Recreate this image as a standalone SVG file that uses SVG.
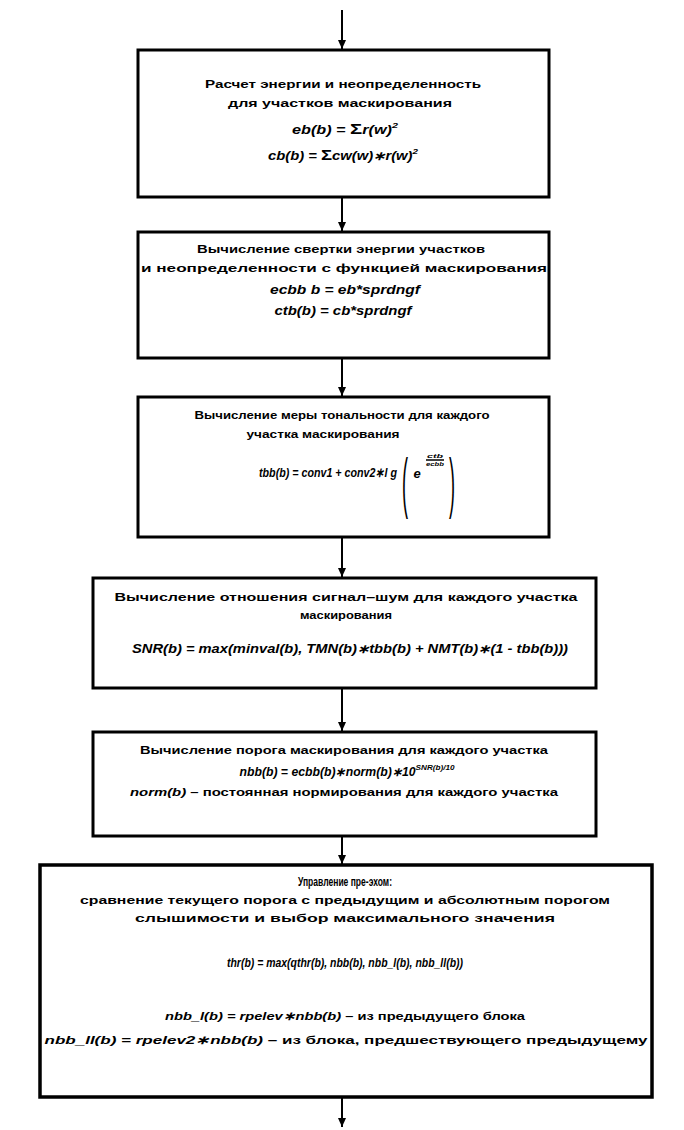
<svg xmlns="http://www.w3.org/2000/svg" width="684" height="1130" viewBox="0 0 684 1130">
<defs>
<marker id="ah" markerUnits="userSpaceOnUse" markerWidth="8" markerHeight="9" refX="4" refY="9" orient="0" viewBox="0 0 8 9">
<path d="M0,0 L8,0 L4,9 z" fill="#000"/>
</marker>
<style>
.box{fill:#fff;stroke:#000;stroke-width:3}
.t{font-family:"Liberation Sans",Arial,sans-serif;font-weight:bold;font-size:11.5px;text-anchor:middle;fill:#000}
.f{font-style:italic;font-size:12px}
.big{font-size:13px}
.conn line{stroke:#000;stroke-width:2}
.sup{font-size:8px}
.par{font-family:"Liberation Sans",Arial,sans-serif;font-size:30px;font-weight:normal;text-anchor:middle;fill:#000}
</style>
</defs>
<rect width="684" height="1130" fill="#fff"/>
<g id="connectors" class="conn">
<line x1="342" y1="10" x2="342" y2="49" marker-end="url(#ah)"/>
<line x1="342" y1="198" x2="342" y2="231" marker-end="url(#ah)"/>
<line x1="342" y1="359" x2="342" y2="396" marker-end="url(#ah)"/>
<line x1="342" y1="538" x2="342" y2="577" marker-end="url(#ah)"/>
<line x1="342" y1="689" x2="342" y2="731" marker-end="url(#ah)"/>
<line x1="342" y1="837" x2="342" y2="864" marker-end="url(#ah)"/>
<line x1="342" y1="1098" x2="342" y2="1127" marker-end="url(#ah)"/>
</g>
<g id="node1">
<rect class="box" x="138" y="50" width="411" height="147"/>
<text class="t" x="343" y="88" textLength="276" lengthAdjust="spacingAndGlyphs">Расчет энергии и неопределенность</text>
<text class="t" x="340" y="107" textLength="224" lengthAdjust="spacingAndGlyphs">для участков маскирования</text>
<text class="t f" x="345" y="134" textLength="106" lengthAdjust="spacingAndGlyphs">eb(b) = <tspan font-style="normal" font-size="15">Σ</tspan>r(w)<tspan class="sup" dy="-6">2</tspan></text>
<text class="t f" x="343" y="160" textLength="150" lengthAdjust="spacingAndGlyphs">cb(b) = <tspan font-style="normal" font-size="15">Σ</tspan>cw(w)∗r(w)<tspan class="sup" dy="-6">2</tspan></text>
</g>
<g id="node2">
<rect class="box" x="138" y="232" width="411" height="126"/>
<text class="t" x="341" y="253" textLength="288" lengthAdjust="spacingAndGlyphs">Вычисление свертки энергии участков</text>
<text class="t" x="344" y="272" textLength="406" lengthAdjust="spacingAndGlyphs">и неопределенности с функцией маскирования</text>
<text class="t f" x="345" y="294" textLength="150" lengthAdjust="spacingAndGlyphs">ecbb b  = eb*sprdngf</text>
<text class="t f" x="343" y="315" textLength="137" lengthAdjust="spacingAndGlyphs">ctb(b) = cb*sprdngf</text>
</g>
<g id="node3">
<rect class="box" x="138" y="397" width="411" height="140"/>
<text class="t" x="342" y="419" textLength="295" lengthAdjust="spacingAndGlyphs">Вычисление меры тональности для каждого</text>
<text class="t" x="323" y="438" textLength="153" lengthAdjust="spacingAndGlyphs">участка маскирования</text>
<text class="t f big" x="328" y="477" textLength="138" lengthAdjust="spacingAndGlyphs">tbb(b) = conv1 + conv2∗l g</text>
<text class="par" x="0" y="0" transform="translate(405,505) scale(0.6,2.25)">(</text>
<text class="t f big" x="417" y="478">e</text>
<text class="t f" x="435" y="458" style="font-size:6px" textLength="16" lengthAdjust="spacingAndGlyphs">ctb</text>
<line x1="426" y1="460" x2="444" y2="460" stroke="#000" stroke-width="1.5"/>
<text class="t f" x="435" y="466" style="font-size:6px" textLength="18" lengthAdjust="spacingAndGlyphs">ecbb</text>
<text class="par" x="0" y="0" transform="translate(452,505) scale(0.6,2.25)">)</text>
</g>
<g id="node4">
<rect class="box" x="93" y="578" width="503" height="110"/>
<text class="t" x="346" y="601" textLength="463" lengthAdjust="spacingAndGlyphs">Вычисление отношения сигнал–шум для каждого участка</text>
<text class="t" x="346" y="619" textLength="92" lengthAdjust="spacingAndGlyphs">маскирования</text>
<text class="t f" x="350" y="653" textLength="436" lengthAdjust="spacingAndGlyphs">SNR(b) = max(minval(b), TMN(b)∗tbb(b) + NMT(b)∗(1 - tbb(b)))</text>
</g>
<g id="node5">
<rect class="box" x="93" y="732" width="503" height="104"/>
<text class="t" x="344" y="754" textLength="408" lengthAdjust="spacingAndGlyphs">Вычисление порога маскирования для каждого участка</text>
<text class="t f" x="347" y="776" textLength="215" lengthAdjust="spacingAndGlyphs">nbb(b) = ecbb(b)∗norm(b)∗10<tspan class="sup" dy="-6">SNR(b)/10</tspan></text>
<text class="t" x="344" y="796" textLength="428" lengthAdjust="spacingAndGlyphs"><tspan font-style="italic">norm(b)</tspan> – постоянная нормирования для каждого участка</text>
</g>
<g id="node6">
<rect class="box" x="40" y="865" width="612" height="232" style="stroke-width:3.5"/>
<text class="t" x="345" y="886" style="font-size:12.5px" textLength="94" lengthAdjust="spacingAndGlyphs">Управление пре-эхом:</text>
<text class="t" x="345" y="904" textLength="530" lengthAdjust="spacingAndGlyphs">сравнение текущего порога с предыдущим и абсолютным порогом</text>
<text class="t" x="345" y="922" textLength="420" lengthAdjust="spacingAndGlyphs">слышимости и выбор максимального значения</text>
<text class="t f big" x="345" y="967" textLength="236" lengthAdjust="spacingAndGlyphs">thr(b) = max(qthr(b), nbb(b), nbb_l(b), nbb_ll(b))</text>
<text class="t" x="345" y="1020" textLength="360" lengthAdjust="spacingAndGlyphs"><tspan font-style="italic">nbb_l(b) = rpelev∗nbb(b)</tspan> – из предыдущего блока</text>
<text class="t" x="346" y="1044" textLength="603" lengthAdjust="spacingAndGlyphs"><tspan font-style="italic">nbb_ll(b) = rpelev2∗nbb(b)</tspan> – из блока, предшествующего предыдущему</text>
</g>
</svg>
